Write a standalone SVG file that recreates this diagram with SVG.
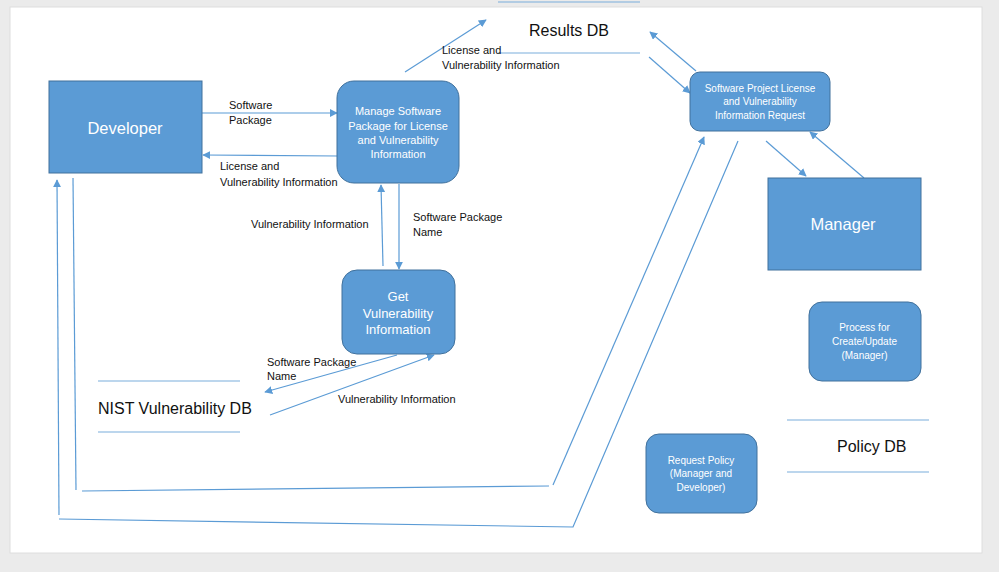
<svg xmlns="http://www.w3.org/2000/svg" width="999" height="572" viewBox="0 0 999 572">
  <defs>
    <marker id="arr" viewBox="0 0 10 10" refX="9" refY="5" markerWidth="8" markerHeight="8" markerUnits="userSpaceOnUse" orient="auto">
      <path d="M0,0 L10,5 L0,10 z" fill="#5b9bd5"/>
    </marker>
    <style>
      .box { fill: #5b9bd5; stroke: #41719c; stroke-width: 1; }
      .ln { fill: none; stroke: #5b9bd5; stroke-width: 1.2; }
      .db { fill: none; stroke: #7aaedc; stroke-width: 1.2; }
      .lbl { font-family: "Liberation Sans", Arial, sans-serif; font-size: 11px; fill: #111; }
      .big { font-family: "Liberation Sans", Arial, sans-serif; font-size: 16px; fill: #111; }
      .wt { font-family: "Liberation Sans", Arial, sans-serif; fill: #ffffff; text-anchor: middle; }
    </style>
  </defs>

  <rect x="0" y="0" width="999" height="572" fill="#ebebeb"/>
  <rect x="10" y="7" width="972" height="546" fill="#ffffff" stroke="#dedede" stroke-width="1"/>

  <g id="connectors">
    <line class="ln" x1="202" y1="113" x2="337" y2="113" marker-end="url(#arr)"/>
    <line class="ln" x1="338" y1="156" x2="203" y2="155" marker-end="url(#arr)"/>
    <line class="ln" x1="405" y1="72" x2="486" y2="20" marker-end="url(#arr)"/>
    <line class="ln" x1="649" y1="57" x2="690" y2="93" marker-end="url(#arr)"/>
    <line class="ln" x1="696" y1="71" x2="650" y2="32" marker-end="url(#arr)"/>
    <line class="ln" x1="399" y1="184" x2="399" y2="269" marker-end="url(#arr)"/>
    <line class="ln" x1="383" y1="266" x2="381" y2="185" marker-end="url(#arr)"/>
    <line class="ln" x1="397" y1="355" x2="265" y2="392" marker-end="url(#arr)"/>
    <line class="ln" x1="270" y1="415" x2="434" y2="355" marker-end="url(#arr)"/>
    <line class="ln" x1="766" y1="141" x2="806" y2="176" marker-end="url(#arr)"/>
    <line class="ln" x1="864" y1="178" x2="810" y2="132" marker-end="url(#arr)"/>
    <line class="ln" x1="73" y1="178" x2="76" y2="490"/>
    <line class="ln" x1="82" y1="491" x2="549" y2="486"/>
    <line class="ln" x1="553" y1="485" x2="704" y2="137" marker-end="url(#arr)"/>
    <polyline class="ln" points="738,141 573,527 59,519"/>
    <line class="ln" x1="59" y1="515" x2="57" y2="180" marker-end="url(#arr)"/>
  </g>

  <g id="results-db">
    <line class="db" x1="498" y1="2" x2="640" y2="2"/>
    <line class="db" x1="498" y1="53" x2="640" y2="53"/>
    <text class="big" x="569" y="36" text-anchor="middle">Results DB</text>
  </g>

  <g id="developer">
    <rect class="box" x="49" y="81" width="153" height="92"/>
    <text class="wt" x="125" y="133.5" font-size="16.5">Developer</text>
  </g>

  <g id="manage">
    <rect class="box" x="337" y="81" width="122" height="102" rx="17"/>
    <text class="wt" font-size="11" x="398" y="115">Manage Software</text>
    <text class="wt" font-size="11" x="398" y="129.5">Package for License</text>
    <text class="wt" font-size="11" x="398" y="144">and Vulnerability</text>
    <text class="wt" font-size="11" x="398" y="158">Information</text>
  </g>

  <g id="get-vuln">
    <rect class="box" x="342" y="270" width="113" height="84" rx="15"/>
    <text class="wt" font-size="13" x="398" y="300.5">Get</text>
    <text class="wt" font-size="13" x="398" y="317.5">Vulnerability</text>
    <text class="wt" font-size="13" x="398" y="334">Information</text>
  </g>

  <g id="nist-db">
    <line class="db" x1="98" y1="381" x2="240" y2="381"/>
    <line class="db" x1="98" y1="432" x2="240" y2="432"/>
    <text class="big" x="98" y="414">NIST Vulnerability DB</text>
  </g>

  <g id="spl-request">
    <rect class="box" x="690" y="72" width="140" height="59" rx="10"/>
    <text class="wt" font-size="10" x="760" y="91.5">Software Project License</text>
    <text class="wt" font-size="10" x="760" y="105">and Vulnerability</text>
    <text class="wt" font-size="10" x="760" y="119">Information Request</text>
  </g>

  <g id="manager">
    <rect class="box" x="768" y="178" width="153" height="92"/>
    <text class="wt" x="843" y="230" font-size="16.5">Manager</text>
  </g>

  <g id="process-create">
    <rect class="box" x="809" y="302" width="112" height="79" rx="13"/>
    <text class="wt" font-size="10" x="864.5" y="331">Process for</text>
    <text class="wt" font-size="10" x="864.5" y="344.5">Create/Update</text>
    <text class="wt" font-size="10" x="864.5" y="358.5">(Manager)</text>
  </g>

  <g id="request-policy">
    <rect class="box" x="646" y="434" width="111" height="79" rx="13"/>
    <text class="wt" font-size="10" x="701" y="463.5">Request Policy</text>
    <text class="wt" font-size="10" x="701" y="477">(Manager and</text>
    <text class="wt" font-size="10" x="701" y="491">Developer)</text>
  </g>

  <g id="policy-db">
    <line class="db" x1="787" y1="420" x2="929" y2="420"/>
    <line class="db" x1="787" y1="472" x2="929" y2="472"/>
    <text class="big" x="837" y="451.5">Policy DB</text>
  </g>

  <g id="labels">
    <text class="lbl" x="442" y="54">License and</text>
    <text class="lbl" x="442" y="69">Vulnerability Information</text>
    <text class="lbl" x="229" y="109">Software</text>
    <text class="lbl" x="229" y="124">Package</text>
    <text class="lbl" x="220" y="170">License and</text>
    <text class="lbl" x="220" y="186">Vulnerability Information</text>
    <text class="lbl" x="251" y="228">Vulnerability Information</text>
    <text class="lbl" x="413" y="220.5">Software Package</text>
    <text class="lbl" x="413" y="235.5">Name</text>
    <text class="lbl" x="267" y="365.5">Software Package</text>
    <text class="lbl" x="267" y="380">Name</text>
    <text class="lbl" x="338" y="403">Vulnerability Information</text>
  </g>
</svg>
